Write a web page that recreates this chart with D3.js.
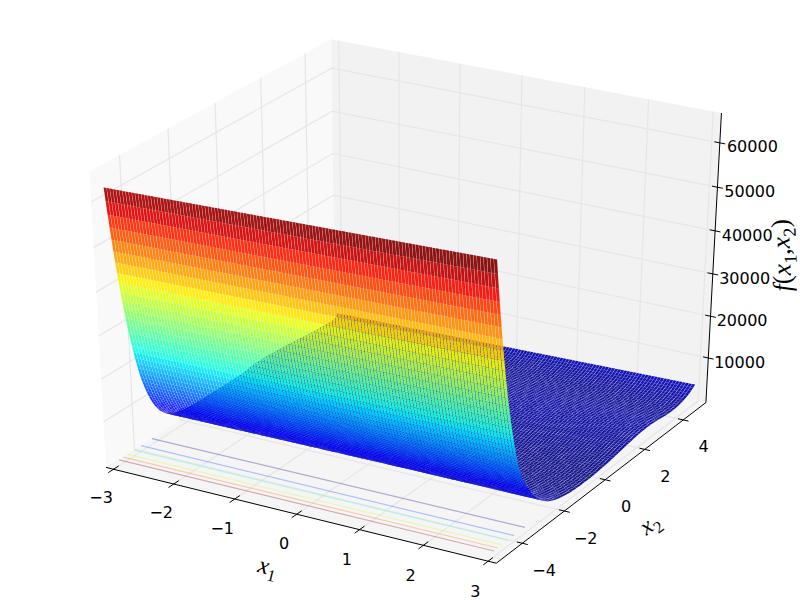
<!DOCTYPE html>
<html>
<head>
<meta charset="utf-8">
<script src="https://cdn.jsdelivr.net/npm/d3@7"></script>
<style>
  html, body { margin: 0; padding: 0; background: #fff; }
  text { font-family: "DejaVu Sans", sans-serif; fill: #000; }
  .math, .math tspan { font-family: "Liberation Serif", serif; font-style: italic; }
</style>
</head>
<body>
<div id="chart"></div>
<script>
// Axis limits and ticks
const x1Lim = [-3, 3];
const x2Lim = [-5, 5];
const zLim = [500, 65300];
const x1Ticks = [-3, -2, -1, 0, 1, 2, 3];
const x2Ticks = [-4, -2, 0, 2, 4];
const zTicks = [10000, 20000, 30000, 40000, 50000, 60000];

// Surface: one value per x2 row along the x1 = 3 edge,
// and how far the x1 = -3 edge sits above it on the same row
const zAtX1Max = [
  65300, 62050, 58860, 55790, 52850, 50020, 47310, 44710, 42220, 39830,
  37550, 35360, 33270, 31280, 29380, 27560, 25830, 24190, 22620, 21130,
  19720, 18380, 17100, 15950, 14900, 13900, 13000, 12150, 11400, 10800,
  10300, 9800, 9300, 8800, 8300, 7800, 7300, 6850, 6400, 6000, 5650,
  4950, 4350, 3800, 3300, 2900, 2500, 2200, 1950, 1700, 1500,
  1300, 1150, 1000, 880, 770, 680, 610, 550, 500, 460,
  430, 420, 420, 420, 430, 440, 460, 480, 510, 550,
  590, 640, 700, 760, 830, 900, 980, 1060, 1150, 1240,
  1330, 1420, 1510, 1600, 1680, 1760, 1840, 1920, 1990, 2060,
  2120, 2170, 2210, 2230, 2240, 2230, 2210, 2170, 2120, 2060,
  1990, 1900, 1820, 1740, 1670, 1620, 1590, 1580, 1590, 1620,
  1680, 1770, 1890, 2040, 2230, 2460, 2740, 3060, 3430, 3850
];
const zGapAtX1Min = [
  -2390, -2300, -2220, -2140, -2060, -1980, -1900, -1820, -1740, -1660,
  -1590, -1510, -1440, -1360, -1290, -1220, -1150, -1080, -1010, -940,
  -870, -810, -740, -680, -610, -550, -540, -520, -560, -700,
  -840, -990, -1080, -1120, -1120, -1110, -1060, -1000, -900, -850, -800,
  -650, -350, -100, 100, 250, 450, 600, 730, 880, 1000,
  1140, 1250, 1370, 1460, 1550, 1620, 1680, 1730, 1770, 1800,
  1820, 1825, 1820, 1815, 1800, 1790, 1765, 1745, 1710, 1670,
  1630, 1580, 1530, 1490, 1470, 1480, 1490, 1500, 1480, 1450,
  1390, 1315, 1230, 1135, 1040, 930, 810, 690, 570, 450,
  340, 240, 150, 70, 0, -50, -90, -110, -120, -120,
  -110, -80, -70, -50, -40, -50, -80, -130, -190, -270,
  -380, -510, -680, -870, -1100, -1370, -1680, -1960, -2030, -1850
];

// Contour lines on the floor, x2 position at each end of the line
const contourLevels = [10000, 20000, 30000, 40000, 50000, 60000];
const contourX2AtX1Min = [-3.55, -4.02, -4.32, -4.6, -4.78, -4.96];
const contourX2AtX1Max = [-3.5, -4.01, -4.29, -4.57, -4.76, -4.94];

// Sample grid of the mesh
const x1Cols = d3.range(0, 121).map(i => -3 + i * 0.05);
const x2Rows = d3.range(0, 41).map(j => -5 + j * 0.05)
  .concat(d3.range(1, 81).map(j => -3 + j * 0.1));

const width = 800, height = 600;

const svg = d3.select("#chart").append("svg")
  .attr("width", width)
  .attr("height", height)
  .style("display", "block");

// Data to the unit cube
const xS = d3.scaleLinear().domain(x1Lim).range([0, 1]);
const yS = d3.scaleLinear().domain(x2Lim).range([0, 1]);
const zS = d3.scaleLinear().domain(zLim).range([0, 1]);
const edgeMix = d3.scaleLinear().domain([3, -3]).range([0, 1]);

// Unit cube to the screen, same camera as a default mplot3d view
const dist = 10, elev = 30 * Math.PI / 180, azim = -60 * Math.PI / 180;
const nAxis = [Math.cos(elev) * Math.cos(azim), Math.cos(elev) * Math.sin(azim), Math.sin(elev)];
const uAxis = [Math.cos(azim + Math.PI / 2), Math.sin(azim + Math.PI / 2), 0];
const vAxis = [
  nAxis[1] * uAxis[2] - nAxis[2] * uAxis[1],
  nAxis[2] * uAxis[0] - nAxis[0] * uAxis[2],
  nAxis[0] * uAxis[1] - nAxis[1] * uAxis[0]
];
const screenX = d3.scaleLinear().domain([-0.095, 0.09]).range([0, width]);
const screenY = d3.scaleLinear().domain([-0.095, 0.09]).range([height, 0]);

function project(nx, ny, nz) {
  const p = [nx - 0.5, ny - 0.5, nz - 0.5];
  const dot = a => a[0] * p[0] + a[1] * p[1] + a[2] * p[2];
  const depth = dist - dot(nAxis);
  return {x: screenX(dot(uAxis) / depth), y: screenY(dot(vAxis) / depth), depth};
}

// jet colormap
const chan = (dom, rng) => d3.scaleLinear().domain(dom).range(rng).clamp(true);
const jetR = chan([0, 0.35, 0.66, 0.89, 1], [0, 0, 1, 1, 0.5]);
const jetG = chan([0, 0.125, 0.375, 0.64, 0.91, 1], [0, 0, 1, 1, 0, 0]);
const jetB = chan([0, 0.11, 0.34, 0.65, 1], [0.5, 1, 1, 0, 0]);
const jet = t => `rgb(${Math.round(jetR(t) * 255)},${Math.round(jetG(t) * 255)},${Math.round(jetB(t) * 255)})`;

const lo = -1 / 48, hi = 1 + 1 / 48;
const line = d3.line().x(d => d.x).y(d => d.y);

// Panes
const panes = [
  {fill: "#f9f9f9", pts: [[lo, lo, lo], [lo, hi, lo], [lo, hi, hi], [lo, lo, hi]]},
  {fill: "#f2f2f2", pts: [[lo, hi, lo], [hi, hi, lo], [hi, hi, hi], [lo, hi, hi]]},
  {fill: "#f5f5f5", pts: [[lo, lo, lo], [hi, lo, lo], [hi, hi, lo], [lo, hi, lo]]}
];
svg.append("g").selectAll("path")
  .data(panes)
  .join("path")
    .attr("d", d => line(d.pts.map(p => project(...p))) + "Z")
    .attr("fill", d => d.fill);

// Grid lines
const gridG = svg.append("g")
  .attr("fill", "none")
  .attr("stroke", "#e6e6e6")
  .attr("stroke-width", 1.2);
const drawGrid = pts => gridG.append("path").attr("d", line(pts.map(p => project(...p))));
x1Ticks.forEach(t => drawGrid([[xS(t), lo, lo], [xS(t), hi, lo], [xS(t), hi, hi]]));
x2Ticks.forEach(t => drawGrid([[hi, yS(t), lo], [lo, yS(t), lo], [lo, yS(t), hi]]));
zTicks.forEach(t => drawGrid([[lo, lo, zS(t)], [lo, hi, zS(t)], [hi, hi, zS(t)]]));

// Axis lines
const axisG = svg.append("g")
  .attr("fill", "none")
  .attr("stroke", "#000")
  .attr("stroke-width", 1);
const drawAxis = pts => axisG.append("path").attr("d", line(pts.map(p => project(...p))));
drawAxis([[lo, lo, lo], [hi, lo, lo]]);
drawAxis([[hi, lo, lo], [hi, hi, lo]]);
drawAxis([[hi, hi, lo], [hi, hi, hi]]);

// Ticks and tick labels
const fmt = d => String(d).replace("-", "\u2212");
const tickLabels = svg.append("g")
  .attr("font-size", 16)
  .attr("text-anchor", "middle")
  .attr("dominant-baseline", "central");
const addLabel = (p, s, dy) => tickLabels.append("text").attr("x", p.x).attr("y", p.y + dy).text(s);

x1Ticks.forEach(t => {
  drawAxis([[xS(t), lo - 0.022, lo], [xS(t), lo + 0.022, lo]]);
  addLabel(project(xS(t), lo - 0.057, lo - 0.072), fmt(t), 0.5);
});
x2Ticks.forEach(t => {
  drawAxis([[hi - 0.014, yS(t), lo], [hi + 0.014, yS(t), lo]]);
  addLabel(project(hi + 0.057, yS(t), lo - 0.074), fmt(t), 2);
});
zTicks.forEach(t => {
  drawAxis([[hi - 0.014, hi, zS(t)], [hi + 0.014, hi, zS(t)]]);
  addLabel(project(hi + 0.071, hi + 0.025, zS(t)), fmt(t), 2);
});

// Contours on the floor
const contourColor = d3.scaleLinear().domain(d3.extent(contourLevels)).range([0, 1]);
svg.append("g")
  .attr("fill", "none")
  .attr("stroke-width", 1.2)
  .attr("stroke-opacity", 0.3)
  .selectAll("path")
  .data(contourLevels)
  .join("path")
    .attr("stroke", d => jet(contourColor(d)))
    .attr("d", (d, i) => line([
      project(0, yS(contourX2AtX1Min[i]), 0),
      project(1, yS(contourX2AtX1Max[i]), 0)
    ]));

// Surface cells, far ones first. Cells are pulled in a little so the seams show.
const zAt = (i, j) => zAtX1Max[j] + zGapAtX1Min[j] * edgeMix(x1Cols[i]);
const zAll = x2Rows.flatMap((_, j) => x1Cols.map((_, i) => zAt(i, j)));
const colorT = d3.scaleLinear().domain(d3.extent(zAll)).range([0, 1]);
const seamX1 = 0.05;
const pull = (p, q, f) => ({x: p.x + (q.x - p.x) * f, y: p.y + (q.y - p.y) * f});

const cells = [];
for (let j = 0; j < x2Rows.length - 1; j++) {
  for (let i = 0; i < x1Cols.length - 1; i++) {
    const corners = [[i, j], [i + 1, j], [i + 1, j + 1], [i, j + 1]];
    const pts = corners.map(([a, b]) => project(xS(x1Cols[a]), yS(x2Rows[b]), zS(zAt(a, b))));
    const inset = [
      pull(pts[0], pts[1], seamX1),
      pull(pts[1], pts[0], seamX1),
      pull(pts[2], pts[3], seamX1),
      pull(pts[3], pts[2], seamX1)
    ];
    cells.push({
      pts: inset,
      depth: d3.mean(pts, p => p.depth),
      z: d3.max(corners, ([a, b]) => zAt(a, b))
    });
  }
}
cells.sort((a, b) => b.depth - a.depth);

svg.append("g")
  .attr("fill-opacity", 0.92)
  .selectAll("path")
  .data(cells)
  .join("path")
    .attr("d", d => line(d.pts) + "Z")
    .attr("fill", d => jet(colorT(d.z)));

// Axis titles
const mathLabel = (x, y, angle, size, parts) => {
  const t = svg.append("text")
    .attr("class", "math")
    .attr("transform", `translate(${x},${y}) rotate(${angle})`)
    .attr("text-anchor", "middle")
    .attr("font-size", size);
  parts.forEach(([s, sub]) => {
    t.append("tspan")
      .attr("dy", sub === 1 ? size * 0.25 : sub === -1 ? -size * 0.25 : 0)
      .attr("font-size", sub === 1 ? size * 0.7 : size)
      .style("font-style", /[0-9(),]/.test(s) ? "normal" : "italic")
      .text(s);
  });
};
mathLabel(266, 574, 14, 24, [["x"], ["1", 1]]);
mathLabel(654, 530, -37, 24, [["x"], ["2", 1]]);
mathLabel(790, 255, -92, 26, [["f"], ["("], ["x"], ["1", 1], [",", -1], ["x"], ["2", 1], [")", -1]]);
</script>
</body>
</html>
